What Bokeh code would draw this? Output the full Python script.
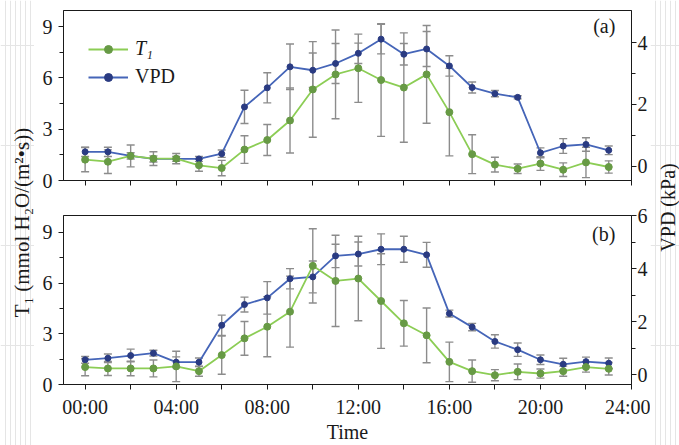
import numpy as np
from bokeh.plotting import figure
from bokeh.models import (ColumnDataSource, Range1d, LinearAxis, FixedTicker,
                          Whisker, TeeHead, Legend, LegendItem)
from bokeh.layouts import row, column
from bokeh.embed import file_html
from bokeh.resources import INLINE
from bokeh.core.properties import value

# ---------------- data ----------------
hours = list(range(24))
x_major_ticks = [0, 4, 8, 12, 16, 20, 24]
x_minor_ticks = [2, 6, 10, 14, 18, 22]
x_all_ticks = [0, 2, 4, 6, 8, 10, 12, 14, 16, 18, 20, 22, 24]
x_tick_labels = ["00:00", "04:00", "08:00", "12:00", "16:00", "20:00", "24:00"]

# panel (a)
t1_a = [1.22, 1.10, 1.44, 1.28, 1.28, 0.89, 0.73, 1.81, 2.37, 3.51, 5.33, 6.21,
        6.57, 5.88, 5.44, 6.21, 4.00, 1.54, 0.93, 0.69, 0.99, 0.63, 1.06, 0.79]
t1_a_err = [0.71, 0.69, 0.64, 0.40, 0.30, 0.35, 0.45, 0.81, 0.91, 1.90, 2.80, 2.60,
            2.00, 3.30, 3.20, 2.86, 2.56, 1.14, 0.43, 0.28, 0.40, 0.40, 0.89, 0.36]
vpd_a = [0.46, 0.46, 0.33, 0.23, 0.23, 0.23, 0.40, 1.92, 2.54, 3.22, 3.11, 3.33,
         3.66, 4.12, 3.63, 3.80, 3.25, 2.55, 2.35, 2.23, 0.43, 0.65, 0.70, 0.51]
vpd_a_err = [0.15, 0.15, 0.10, 0.10, 0.08, 0.08, 0.12, 0.54, 0.49, 0.74, 0.56, 0.65,
             0.33, 0.48, 0.35, 0.57, 0.33, 0.18, 0.10, 0.05, 0.16, 0.24, 0.22, 0.14]

# panel (b)
t1_b = [1.03, 0.95, 0.95, 0.95, 1.07, 0.79, 1.74, 2.73, 3.42, 4.31, 7.02, 6.13,
        6.27, 4.94, 3.62, 2.91, 1.34, 0.79, 0.55, 0.75, 0.65, 0.79, 1.03, 0.93]
t1_b_err = [0.51, 0.42, 0.43, 0.50, 0.90, 0.30, 1.13, 1.00, 1.78, 2.10, 2.20, 2.70,
            2.50, 2.80, 1.35, 1.62, 1.17, 0.66, 0.33, 0.46, 0.27, 0.30, 0.30, 0.37]
vpd_b = [0.57, 0.63, 0.73, 0.82, 0.48, 0.48, 1.87, 2.65, 2.90, 3.62, 3.69, 4.48,
         4.55, 4.73, 4.73, 4.52, 2.31, 1.80, 1.26, 0.95, 0.57, 0.40, 0.50, 0.44]
vpd_b_err = [0.13, 0.16, 0.24, 0.11, 0.20, 0.16, 0.38, 0.28, 0.61, 0.38, 0.60, 0.44,
             0.45, 0.58, 0.49, 0.47, 0.13, 0.14, 0.25, 0.25, 0.18, 0.23, 0.17, 0.20]

t1_ticks = [0, 3, 6, 9]
t1_minor = [1.5, 4.5, 7.5]
vpd_ticks_a = [0, 2, 4]
vpd_minor_a = [1, 3]
vpd_ticks_b = [0, 2, 4, 6]
vpd_minor_b = [1, 3, 5]

# ---------------- style ----------------
FONT = "Liberation Serif"
FS = "20px"
INK = "#1a1a1a"
GREEN_LINE = "#8ccd55"
GREEN_MARK = "#679a45"
BLUE_LINE = "#4565b8"
BLUE_MARK = "#2a3b82"
ERR = "#8c8c8c"

MAIN_W = 616
LEFT_W = 34
RIGHT_W = 29
TOTAL_H = 445


def style_axis(ax, tick_out=5, minor_out=3):
    ax.axis_line_color = INK
    ax.major_tick_line_color = INK
    ax.minor_tick_line_color = INK
    ax.major_tick_in = 0
    ax.major_tick_out = tick_out
    ax.minor_tick_in = 0
    ax.minor_tick_out = minor_out
    ax.major_label_text_font = FONT
    ax.major_label_text_font_size = FS
    ax.major_label_text_color = INK
    ax.axis_label_text_font = FONT
    ax.axis_label_text_font_size = FS
    ax.axis_label_text_font_style = "normal"
    ax.axis_label_text_color = INK


def panel(t1, t1e, vpd, vpde, height, top, bottom, y_end, vpd_range,
          vpd_ticks, vpd_minor, tag, tag_y, show_labels):
    p = figure(width=MAIN_W, height=height, toolbar_location=None, output_backend="svg",
               x_range=Range1d(-0.95, 24), y_range=Range1d(0, y_end),
               min_border_left=29, min_border_right=17,
               min_border_top=top, min_border_bottom=bottom,
               background_fill_color="white", border_fill_color="white")
    p.extra_y_ranges = {"vpd": Range1d(*vpd_range)}
    p.xgrid.visible = False
    p.ygrid.visible = False
    p.outline_line_color = INK
    p.outline_line_width = 1

    # x axis
    xa = p.xaxis[0]
    style_axis(xa, tick_out=5, minor_out=5)
    if show_labels:
        xa.ticker = FixedTicker(ticks=x_major_ticks, minor_ticks=x_minor_ticks)
        xa.major_label_overrides = {t: l for t, l in zip(x_major_ticks, x_tick_labels)}
        xa.major_label_standoff = 6
        xa.axis_label = "Time"
        xa.axis_label_standoff = 0
    else:
        xa.ticker = FixedTicker(ticks=[], minor_ticks=x_all_ticks)

    # left axis
    ya = p.yaxis[0]
    style_axis(ya, tick_out=5, minor_out=4)
    ya.ticker = FixedTicker(ticks=t1_ticks, minor_ticks=t1_minor)
    ya.major_label_standoff = 6
    ya.major_label_orientation = "horizontal"

    # right axis
    ra = LinearAxis(y_range_name="vpd",
                    ticker=FixedTicker(ticks=vpd_ticks, minor_ticks=vpd_minor))
    style_axis(ra, tick_out=5, minor_out=4)
    ra.major_label_standoff = 1
    ra.major_label_orientation = "horizontal"
    p.add_layout(ra, "right")

    # error bars
    src_t = ColumnDataSource(dict(x=hours, y=t1,
                                  lo=[a - b for a, b in zip(t1, t1e)],
                                  hi=[a + b for a, b in zip(t1, t1e)]))
    src_v = ColumnDataSource(dict(x=hours, y=vpd,
                                  lo=[a - b for a, b in zip(vpd, vpde)],
                                  hi=[a + b for a, b in zip(vpd, vpde)]))
    for src, rng in ((src_v, "vpd"), (src_t, "default")):
        w = Whisker(source=src, base="x", lower="lo", upper="hi", dimension="height",
                    line_color=ERR, line_width=1.4, level="underlay",
                    lower_head=TeeHead(size=8, line_color=ERR, line_width=1.4),
                    upper_head=TeeHead(size=8, line_color=ERR, line_width=1.4))
        if rng == "vpd":
            w.y_range_name = "vpd"
        p.add_layout(w)

    lb = p.line("x", "y", source=src_v, y_range_name="vpd", line_color=BLUE_LINE, line_width=1.8)
    sb = p.scatter("x", "y", source=src_v, y_range_name="vpd", marker="circle", size=6,
                   fill_color=BLUE_MARK, line_color=BLUE_MARK)
    lg = p.line("x", "y", source=src_t, line_color=GREEN_LINE, line_width=1.8)
    sg = p.scatter("x", "y", source=src_t, marker="circle", size=7,
                   fill_color=GREEN_MARK, line_color=GREEN_MARK)

    p.text(x=[23.29], y=[tag_y], text=[tag], text_align="right", text_baseline="middle",
           text_font=value(FONT), text_font_size=FS, text_color=INK)
    return p, (lg, sg), (lb, sb)


fig_a, g_a, b_a = panel(t1_a, t1_a_err, vpd_a, vpd_a_err, 200, 10, 20, 9.95,
                        (-0.47, 5.05), vpd_ticks_a, vpd_minor_a, "(a)", 9.03, False)
fig_b, g_b, b_b = panel(t1_b, t1_b_err, vpd_b, vpd_b_err, 245, 15, 58, 10.0,
                        (-0.36, 6.0), vpd_ticks_b, vpd_minor_b, "(b)", 8.9, True)

leg_common = dict(glyph_width=40, glyph_height=20, label_height=20, padding=0, margin=0,
                  spacing=0, border_line_color=None, background_fill_alpha=0,
                  label_text_font=FONT, label_text_font_size=FS, label_text_color=INK,
                  label_standoff=7)
leg1 = Legend(items=[LegendItem(label="T₁", renderers=list(g_a))], location=(25, 120),
              label_text_font_style="italic", **leg_common)
leg2 = Legend(items=[LegendItem(label="VPD", renderers=list(b_a))], location=(25, 92),
              **leg_common)
fig_a.add_layout(leg1)
fig_a.add_layout(leg2)

# side figures carrying the shared axis titles
left = figure(width=LEFT_W, height=TOTAL_H, toolbar_location=None, output_backend="svg",
              x_range=Range1d(0, LEFT_W), y_range=Range1d(0, TOTAL_H), min_border=0,
              x_axis_location=None, y_axis_location=None, outline_line_color=None)
left.text(x=[21], y=[223], text=["T₁ (mmol H₂O/(m²•s))"], angle=np.pi / 2,
          text_align="center", text_baseline="middle", text_font=value(FONT),
          text_font_size="21px", text_color=INK)

right = figure(width=RIGHT_W, height=TOTAL_H, toolbar_location=None, output_backend="svg",
               x_range=Range1d(0, RIGHT_W), y_range=Range1d(0, TOTAL_H), min_border=0,
               x_axis_location=None, y_axis_location=None, outline_line_color=None)
right.text(x=[17], y=[238], text=["VPD (kPa)"], angle=np.pi / 2,
           text_align="center", text_baseline="middle", text_font=value(FONT),
           text_font_size=FS, text_color=INK)

layout = row(left, column(fig_a, fig_b), right)
open("out.html", "w").write(file_html(layout, INLINE))
